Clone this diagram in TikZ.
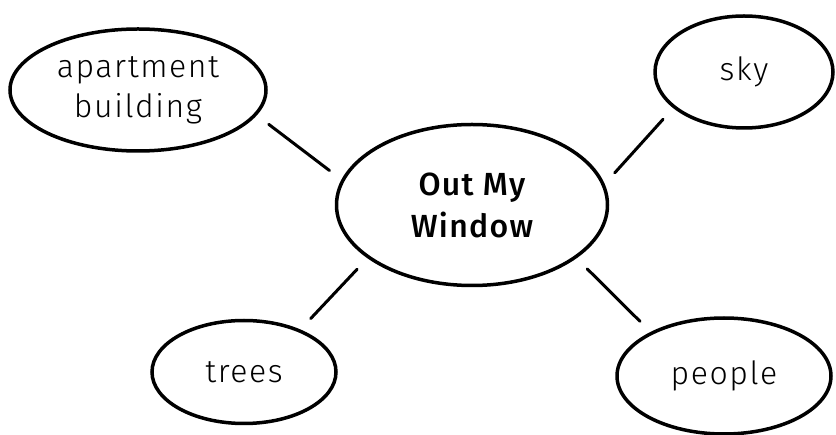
\documentclass[tikz,border=0pt]{standalone}
\usepackage{fontspec}
\setmainfont{Fira Sans}
\newfontfamily\handfont{Fira Sans Light}[LetterSpace=5]
\newfontfamily\titlefont{Fira Sans Medium}[LetterSpace=4]
\usetikzlibrary{shapes.geometric}
\tikzset{
x=1pt, y=-1pt, % one unit is one pixel of the sketch, y runs down
bubble/.style={ellipse, draw, line width=3.5pt, inner sep=0pt, align=center, font=\handfont\fontsize{32}{40}\selectfont}, % the ideas round the middle
topic/.style={bubble, font=\titlefont\fontsize{32}{42}\selectfont}, % the middle idea
link/.style={line width=3pt, line cap=round, shorten <=15pt, shorten >=15pt}, % the spokes
}

\begin{document}
\begin{tikzpicture}
    \useasboundingbox (0,0) rectangle (836,435);
    \node[topic, minimum width=271pt, minimum height=161pt] (win) at (472,205) {Out My\\Window};
    \node[bubble, minimum width=256pt, minimum height=122pt] (apt) at (138,90) {apartment\\building};
    \node[bubble, minimum width=178pt, minimum height=112pt] (sky) at (744,72) {sky};
    \node[bubble, minimum width=184pt, minimum height=103pt] (trees) at (244,372) {trees};
    \node[bubble, minimum width=214pt, minimum height=116pt] (people) at (724,376) {people};
    \draw
    (apt.-12) edge[link] (win.169)
    (sky.207) edge[link] (win.9)
    (trees.37) edge[link] (win.207)
    (people.149) edge[link] (win.-27);
\end{tikzpicture}
\end{document}
